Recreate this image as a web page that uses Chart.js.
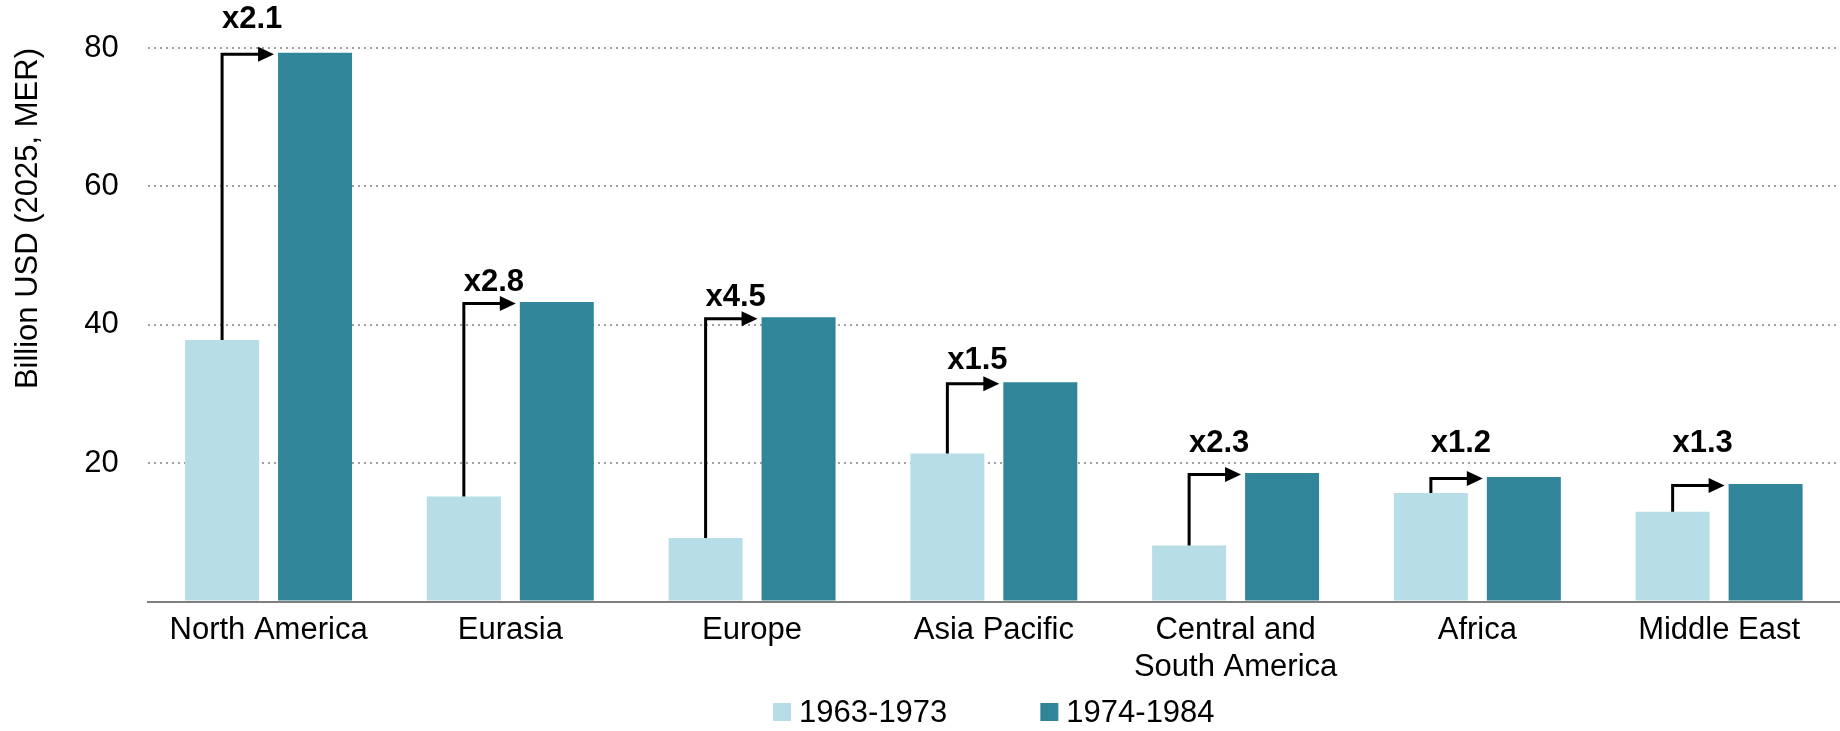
<!DOCTYPE html>
<html>
<head>
<meta charset="utf-8">
<title>Spending by region</title>
<script src="https://cdn.jsdelivr.net/npm/chart.js@4.4.1/dist/chart.umd.min.js"></script>
<style>
  html, body { margin: 0; padding: 0; background: #fff; }
  #wrap { width: 1840px; height: 731px; }
</style>
</head>
<body>
<div id="wrap"><canvas id="chart" width="1840" height="731"></canvas></div>
<script>
const regions = ["North America", "Eurasia", "Europe", "Asia Pacific", ["Central and", "South America"], "Africa", "Middle East"];
const seriesNames = ["1963-1973", "1974-1984"];
const period1 = [37.8, 15.2, 9.2, 21.4, 8.1, 15.7, 13.0];
const period2 = [79.3, 43.3, 41.1, 31.7, 18.6, 18.0, 17.0];
const growth = ["x2.1", "x2.8", "x4.5", "x1.5", "x2.3", "x1.2", "x1.3"];
// level (in axis units) where each growth label sits
const growthLevels = [84.1, 46.1, 44.0, 34.8, 22.8, 22.8, 22.8];
const yTicks = [20, 40, 60, 80];

const FONT = "'Liberation Sans', Arial, sans-serif";
const LIGHT = "#b7dde6";
const DARK = "#318599";

Chart.defaults.font.family = FONT;
Chart.defaults.color = "#000";

// arrows from the first period bar to the second one, with the multiplier on top
const growthArrows = {
  id: "growthArrows",
  afterDatasetsDraw(chart) {
    const ctx = chart.ctx;
    const yScale = chart.scales.y;
    const before = chart.getDatasetMeta(0).data;
    const after = chart.getDatasetMeta(1).data;
    ctx.save();
    ctx.strokeStyle = "#000";
    ctx.fillStyle = "#000";
    ctx.lineWidth = 3;
    ctx.lineJoin = "miter";
    growth.forEach((label, i) => {
      const a = before[i], b = after[i];
      const x0 = a.x;
      const yLine = b.y + 1.5;
      const tip = b.x - b.width / 2 - 4;
      const head = 16;
      ctx.beginPath();
      ctx.moveTo(x0, a.y);
      ctx.lineTo(x0, yLine);
      ctx.lineTo(tip - head + 1, yLine);
      ctx.stroke();
      ctx.beginPath();
      ctx.moveTo(tip, yLine);
      ctx.lineTo(tip - head, yLine - 7.5);
      ctx.lineTo(tip - head, yLine + 7.5);
      ctx.closePath();
      ctx.fill();

      ctx.font = "bold 31px " + FONT;
      ctx.textAlign = "center";
      ctx.textBaseline = "middle";
      const mid = (x0 + b.x - b.width / 2) / 2 + 2;
      ctx.fillText(label, mid, yScale.getPixelForValue(growthLevels[i]));
    });
    ctx.restore();
  }
};

// legend with small squares close to the text
const periodLegend = {
  id: "periodLegend",
  afterDraw(chart) {
    const ctx = chart.ctx;
    const area = chart.chartArea;
    ctx.save();
    ctx.font = "31px " + FONT;
    ctx.textBaseline = "middle";
    ctx.textAlign = "left";
    const box = 18, gap = 8, spacing = 93;
    const items = chart.data.datasets.map(ds => ({
      label: ds.label,
      color: ds.backgroundColor,
      w: ctx.measureText(ds.label).width
    }));
    const total = items.reduce((s, it) => s + box + gap + it.w, 0) + spacing * (items.length - 1);
    let x = (area.left + area.right) / 2 - total / 2;
    const y = chart.height - 19;
    items.forEach(it => {
      ctx.fillStyle = it.color;
      ctx.fillRect(x, y - box / 2, box, box);
      ctx.fillStyle = "#000";
      ctx.fillText(it.label, x + box + gap, y + 1);
      x += box + gap + it.w + spacing;
    });
    ctx.restore();
  }
};

const ctx = document.getElementById("chart").getContext("2d");
new Chart(ctx, {
  type: "bar",
  data: {
    labels: regions,
    datasets: [
      { label: seriesNames[0], data: period1, backgroundColor: LIGHT },
      { label: seriesNames[1], data: period2, backgroundColor: DARK }
    ]
  },
  options: {
    responsive: false,
    animation: false,
    devicePixelRatio: 1,
    categoryPercentage: 0.769,
    barPercentage: 0.796,
    layout: { padding: { left: 10, right: 0, top: 48, bottom: 35 } },
    plugins: {
      legend: { display: false },
      tooltip: { enabled: false }
    },
    scales: {
      x: {
        grid: { display: false, drawTicks: false },
        border: { color: "#7f7f7f", width: 2 },
        ticks: { color: "#000", font: { size: 31 }, padding: 10, maxRotation: 0, autoSkip: false }
      },
      y: {
        min: 0,
        max: 80,
        afterBuildTicks: scale => {
          scale.ticks = [0, ...yTicks].map(v => ({ value: v }));
        },
        grid: {
          color: c => (c.tick && c.tick.value === 0 ? "rgba(0,0,0,0)" : "#a0a0a0"),
          lineWidth: 2,
          drawTicks: false
        },
        border: { display: false, dash: [2, 4] },
        ticks: {
          color: "#000",
          font: { size: 31 },
          padding: 29,
          callback: v => (v === 0 ? "" : v)
        },
        title: {
          display: true,
          text: "Billion USD (2025, MER)",
          align: "end",
          color: "#000",
          font: { size: 31 },
          padding: { top: 0, bottom: 8 }
        }
      }
    }
  },
  plugins: [growthArrows, periodLegend]
});
</script>
</body>
</html>
